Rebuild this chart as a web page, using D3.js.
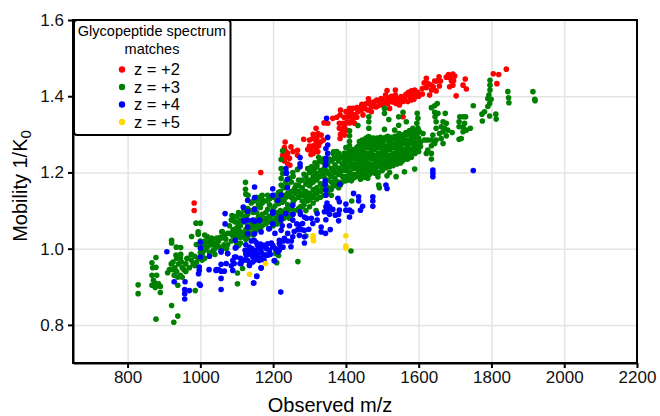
<!DOCTYPE html>
<meta charset="utf-8">
<style>
body { margin: 0; background: #fff; }
svg { display: block; font-family: "Liberation Sans", Arial, sans-serif; }
.grid line { stroke: #e4e4e4; stroke-width: 1.5px; }
.grid path { display: none; }
.axis path, .axis line { stroke: #000; stroke-width: 2px; }
.axis text { font-size: 17px; fill: #111; }
.frame { fill: none; stroke: #000; stroke-width: 2px; }
</style>
<svg width="660" height="416"></svg>
<script src="https://d3js.org/d3.v7.min.js"></script>
<script>

var xTicks = [800, 1000, 1200, 1400, 1600, 1800, 2000, 2200];
var yTicks = [0.8, 1.0, 1.2, 1.4, 1.6];
var legendLabels = ["z = +2", "z = +3", "z = +4", "z = +5"];
var colors = ["#ff0000", "#008000", "#0000ff", "#ffd700"];

// [m/z, 1/K0]
var z2 = [[1841,1.471],[1805,1.459],[1820,1.457],[1815,1.433],[1621,1.447],[1656,1.451],[1682,1.457],[1694,1.458],[1699,1.453],[1685,1.449],[1696,1.441],[1728,1.445],[1722,1.429],[1731,1.419],[1703,1.401],[1685,1.425],[1694,1.429],
  [1644,1.44],[1657,1.427],[1625,1.434],[1621,1.423],[1635,1.416],[1648,1.414],[1630,1.403],[1610,1.406],[1589,1.416],[1580,1.414],[1593,1.407],[1584,1.403],[1575,1.4],[1598,1.41],[1587,1.392],[1580,1.39],[1570,1.386],
  [1536,1.416],[1536,1.403],[1529,1.394],[1543,1.394],[1552,1.399],[1525,1.386],[1538,1.381],[1547,1.377],[1557,1.386],[1561,1.394],[1513,1.415],[1509,1.403],[1497,1.394],[1492,1.386],[1479,1.386],[1483,1.372],[1502,1.377],[1515,1.381],[1520,1.368],[1557,1.346],
  [1462,1.393],[1444,1.379],[1460,1.381],[1470,1.372],[1451,1.368],[1460,1.364],[1442,1.364],[1433,1.359],[1447,1.351],[1470,1.359],[1410,1.368],[1419,1.368],[1405,1.359],[1415,1.355],[1424,1.351],[1410,1.346],[1403,1.346],[1385,1.364],[1364,1.342],[1350,1.329],[1384,1.351],
  [1382,1.329],[1392,1.329],[1396,1.32],[1382,1.316],[1392,1.307],[1401,1.311],[1384,1.289],[1396,1.298],[1405,1.333],[1415,1.333],[1424,1.329],[1318,1.316],[1332,1.298],[1323,1.302],[1284,1.287],[1309,1.289],[1300,1.285],[1318,1.281],[1338,1.285],[1300,1.269],[1314,1.269],[1304,1.259],[1318,1.26],[1304,1.247],[1323,1.254],[1320,1.218],
  [1233,1.28],[1231,1.265],[1249,1.267],[1267,1.258],[1267,1.245],[1226,1.245],[1237,1.241],[1245,1.237],[1231,1.23],[1240,1.223],[1246,1.219],[1166,1.2],[983,1.12],[983,1.1],
  [1440,1.37],[1430,1.37],[1455,1.38],[1465,1.385],[1475,1.38],[1485,1.39],[1490,1.375],[1500,1.39],[1505,1.385],[1510,1.39],[1518,1.395],[1525,1.4],[1530,1.385],[1540,1.39],[1548,1.385],[1555,1.395],[1565,1.405],[1572,1.41],[1580,1.4],[1590,1.4],[1600,1.4],[1610,1.42],[1615,1.435],[1632,1.43],[1640,1.425],[1650,1.44],[1660,1.44],[1690,1.44],[1676,1.45],[1400,1.33],[1410,1.33],[1420,1.34],[1430,1.345],[1395,1.345],[1400,1.36],[1390,1.31],[1385,1.3],[1375,1.345],[1310,1.3],[1320,1.29],[1310,1.27],[1325,1.27],[1295,1.26],[1310,1.25],[1330,1.28],[1240,1.25],[1255,1.255],[1235,1.255],[1340,1.33]];

var z3Scatter = [[1914,1.412],[1919,1.392],[1920,1.388],[1845,1.412],[1847,1.396],[1848,1.383],[1796,1.442],[1796,1.429],[1796,1.416],[1793,1.403],[1790,1.394],[1795,1.381],[1799,1.392],[1790,1.373],[1781,1.359],[1774,1.353],[1775,1.335],[1795,1.348],[1812,1.353],[1813,1.34],[1750,1.375],
  [1722,1.346],[1713,1.346],[1729,1.346],[1711,1.333],[1726,1.329],[1722,1.32],[1711,1.32],[1731,1.311],[1742,1.316],[1722,1.307],[1717,1.289],[1711,1.287],
  [1651,1.381],[1644,1.375],[1635,1.37],[1644,1.358],[1653,1.355],[1645,1.346],[1648,1.333],[1673,1.355],[1667,1.333],[1676,1.329],[1662,1.32],[1671,1.316],[1680,1.311],[1692,1.305],[1667,1.307],[1657,1.302],[1676,1.296],[1662,1.289],[1667,1.276],[1648,1.316],[1639,1.298],[1635,1.285],[1625,1.285],[1616,1.285],[1644,1.276],[1635,1.27],[1625,1.259],[1621,1.25],[1635,1.25],[1635,1.235],[1648,1.285],
  [1596,1.355],[1598,1.342],[1595,1.329],[1598,1.316],[1584,1.316],[1602,1.307],[1589,1.298],[1612,1.302],[1566,1.333],[1545,1.324],[1534,1.311],[1546,1.302],[1557,1.298],[1506,1.368],[1506,1.355],[1518,1.339],[1545,1.346],[1557,1.358],[1506,1.313],[1463,1.346],[1463,1.333],[1463,1.316],[1433,1.323],[1410,1.309],[1410,1.296],[1410,1.281],[1462,1.294],[1437,1.281],[1366,1.254],[1370,1.239],[1396,1.241],[1327,1.228],[1314,1.211],[1275,1.178],
  [1589,1.209],[1561,1.202],[1538,1.189],[1520,1.2],[1513,1.191],[1490,1.167],[1488,1.189],[1460,1.185],[1492,1.16],
  [1124,1.174],[1124,1.156],[1125,1.143],[1131,1.14],[1169,1.139],[1171,1.127],[1188,1.133],[1222,1.167],[1226,1.257],[1222,1.234],[1222,1.21],[1226,1.197],[1222,1.184],[1270,1.18],[1263,1.167],[1254,1.2],[1267,1.208],[1307,1.204],[1313,1.21],[1318,1.197],[1366,1.235],[1394,1.241],[1416,1.125],[1414,0.994],[1268,0.966],[1210,0.963],[1102,0.908],[1102,0.936],[1116,0.948],[1206,0.987],[1215,0.982],[1290,1.033],[1318,1.1],
  [829,0.905],[829,0.882],[878,0.815],[921,0.851],[938,0.823],[927,0.807],[878,0.977],[867,0.963],[869,0.95],[878,0.951],[867,0.93],[871,0.917],[867,0.904],[876,0.898],[885,0.908],[890,0.901],[890,0.885],[910,0.937],[921,1.022],[921,1.015],[934,1.004],[946,1.003],[933,0.983],[946,0.985],[938,0.904],[986,0.89],[963,0.974],[976,1.032],[988,1.067],[1000,1.067],[994,1.044],[994,1.038],[989,1.011],[1012,1.036],[1019,1.032],[1031,1.028],[1045,1.028],[1059,1.044],[1087,1.087],[1089,1.079],
  [925,0.965],[930,0.95],[935,0.94],[940,0.96],[945,0.93],[950,0.95],[955,0.945],[928,0.93],[938,0.925],[948,0.965],[960,0.96],[965,0.975],[970,0.95],[975,0.97],[980,0.96],[985,0.98],[990,0.965],[995,0.975],[1000,0.99],[1005,0.985],[1010,0.995],[1015,1.0],[1020,1.005],[1030,1.01],[1035,0.995],[1040,1.0],[1045,1.015],[1050,1.02],[1055,1.03],[1060,1.045],[1065,1.01],[1070,1.025],[1075,1.04],[1080,1.06],[1085,1.075],[1090,1.05],[1095,1.03],[1000,1.02],[1010,1.01],[1025,0.99],[1040,0.985],[1060,1.0],[1075,1.01],[1085,1.02],[1090,1.085],[1095,1.07],
  [1012,1.02],[1022,1.018],[1033,1.02],[1042,1.012],[1052,1.005],[1058,1.028],[1066,1.035],[1072,1.0],[1082,1.04],[1088,1.035],[1096,1.045],[1104,1.05],
  [1005,0.97],[1012,0.975],[985,0.955],[975,0.985],[945,0.975],[935,0.975],[925,0.945],[920,0.96],[950,0.925],[960,0.94],[915,0.945],[880,0.93],[875,0.91]];

// dense band, one row per m/z column: [m/z, 1/K0, 1/K0, ...]
var z3Band = [[1100,1.085,1.07,1.055,1.04,1.03,1.015],[1105,1.095,1.065,1.035,1.008],[1110,1.09,1.075,1.06,1.045,1.03,1.015],[1120,1.1,1.085,1.07,1.04,1.03],[1125,1.105,1.08,1.05,1.025],[1130,1.105,1.09,1.06,1.045,1.03],[1140,1.12,1.1,1.07,1.055,1.04],[1145,1.125,1.095,1.062,1.036],
  [1150,1.125,1.105,1.075,1.06,1.045],[1155,1.135,1.095,1.065,1.05],[1160,1.13,1.115,1.085,1.07,1.055],[1165,1.135,1.108,1.078,1.05],[1170,1.14,1.12,1.09,1.075,1.06],[1180,1.125,1.095,1.08,1.065],[1185,1.14,1.103,1.072],[1190,1.13,1.115,1.085,1.07],
  [1200,1.135,1.105,1.09,1.075,1.06],[1205,1.14,1.112,1.068],[1210,1.14,1.125,1.095,1.08,1.065],[1215,1.148,1.118,1.088],[1220,1.15,1.13,1.1,1.085,1.07],[1225,1.165,1.122,1.09],[1230,1.16,1.14,1.125,1.095,1.08],[1235,1.175,1.135,1.103],[1240,1.165,1.145,1.115,1.1,1.085],[1245,1.185,1.138,1.108,1.08],
  [1250,1.175,1.15,1.135,1.105,1.09],[1255,1.19,1.152,1.122,1.09],[1260,1.16,1.145,1.13,1.1],[1270,1.165,1.15,1.135,1.105],[1275,1.178,1.142,1.11],[1280,1.18,1.16,1.14,1.125,1.11],[1285,1.195,1.15,1.115],[1290,1.19,1.17,1.15,1.135,1.1],[1295,1.21,1.178,1.14,1.125],
  [1300,1.2,1.18,1.165,1.145,1.13,1.11],[1305,1.215,1.172,1.138],[1310,1.21,1.19,1.175,1.155,1.135,1.12],[1315,1.225,1.182,1.145],[1320,1.215,1.195,1.18,1.16,1.145,1.13],[1325,1.24,1.188,1.152],[1330,1.23,1.205,1.19,1.17,1.15,1.135],[1335,1.235,1.195,1.158],[1340,1.225,1.21,1.19,1.17,1.155,1.14],[1345,1.205,1.165],
  [1350,1.22,1.2,1.18,1.16,1.145],[1355,1.235,1.195,1.158],[1360,1.23,1.21,1.19,1.175,1.155,1.14],[1365,1.25,1.205,1.168],[1370,1.24,1.22,1.2,1.185,1.165],[1375,1.255,1.212,1.175],[1380,1.25,1.23,1.21,1.195,1.175,1.16],[1385,1.24,1.202,1.168],[1390,1.24,1.22,1.205,1.19,1.175],[1395,1.25,1.228,1.212,1.18],
  [1400,1.265,1.25,1.235,1.22,1.205,1.19,1.178],[1405,1.265,1.243,1.212,1.18],[1410,1.27,1.255,1.24,1.23,1.215,1.2,1.185],[1415,1.25,1.222,1.192,1.178],[1420,1.26,1.245,1.235,1.22,1.21,1.195,1.185],[1425,1.26,1.24,1.215,1.188],[1430,1.265,1.25,1.235,1.225,1.21,1.195],[1435,1.27,1.255,1.23,1.202,1.19],
  [1440,1.272,1.26,1.25,1.24,1.225,1.215,1.2,1.19,1.182],[1445,1.285,1.258,1.235,1.208],[1450,1.28,1.27,1.255,1.245,1.23,1.22,1.205,1.195,1.187],[1455,1.29,1.27,1.245,1.215,1.19],[1460,1.288,1.275,1.265,1.25,1.24,1.225,1.21,1.2],[1465,1.292,1.27,1.243,1.218,1.195],[1470,1.285,1.275,1.26,1.25,1.235,1.22,1.21,1.2],[1475,1.29,1.268,1.24,1.212],[1480,1.28,1.27,1.26,1.245,1.235,1.225,1.21,1.198],[1485,1.29,1.265,1.24,1.215],[1490,1.285,1.275,1.265,1.25,1.24,1.23,1.215,1.2],[1495,1.292,1.27,1.245,1.222],
  [1500,1.288,1.28,1.27,1.255,1.245,1.23,1.22,1.205],[1505,1.29,1.262,1.24,1.215],[1510,1.292,1.285,1.27,1.26,1.25,1.235,1.225,1.212],[1515,1.295,1.265,1.242,1.22],[1520,1.285,1.28,1.27,1.26,1.245,1.235,1.225,1.215],[1525,1.292,1.268,1.245],[1530,1.29,1.275,1.265,1.25,1.24,1.23,1.218],[1535,1.295,1.27,1.248,1.225],[1540,1.29,1.28,1.265,1.255,1.245,1.235,1.222],[1545,1.295,1.275,1.25,1.228],
  [1550,1.29,1.28,1.27,1.26,1.25,1.24,1.225],[1555,1.298,1.278,1.255,1.23],[1560,1.295,1.285,1.275,1.26,1.25,1.238],[1565,1.305,1.28,1.258,1.235],[1570,1.3,1.285,1.275,1.265,1.255,1.245,1.235],[1575,1.31,1.282,1.258],[1580,1.305,1.295,1.285,1.275,1.26,1.25,1.24],[1585,1.31,1.288,1.262],[1590,1.305,1.295,1.28,1.27,1.26,1.25],[1595,1.3,1.272],[1600,1.29,1.275,1.265,1.255],[1605,1.28,1.268]];

var z4 = [[908,0.992],[1000,1.017],[1000,1.002],[1000,0.978],[1025,0.98],[997,0.952],[997,0.943],[995,0.934],[1024,0.945],[1043,0.943],[1057,0.991],[1075,0.987],[1057,0.959],[1057,0.941],[1066,0.941],[1057,0.922],[1057,0.893],[997,0.907],[1000,0.904],[928,0.913],[958,0.913],[957,0.893],[957,0.882],[957,0.868],[970,0.89],[1071,0.961],[1089,0.969],[1089,0.943],[1094,0.978],[1109,0.961],[1096,1.022],[1096,1.002],[1068,1.092],[1068,1.065],
  [1118,1.109],[1130,1.127],[1149,1.162],[1149,1.134],[1149,1.103],[1130,1.098],[1121,1.072],[1149,1.072],[1163,1.074],[1130,1.057],[1130,1.039],[1149,1.039],[1188,1.052],[1199,1.157],[1199,1.14],[1213,1.127],[1222,1.141],[1199,1.093],[1199,1.065],[1222,1.083],[1236,1.198],[1239,1.182],[1239,1.16],[1221,0.886],[1155,0.927],[1147,0.91],[1167,0.949],
  [1123,0.996],[1126,0.983],[1135,1.004],[1139,0.991],[1144,0.978],[1130,0.969],[1153,1.017],[1162,1.004],[1167,0.991],[1158,0.978],[1176,1.009],[1185,1.013],[1190,0.996],[1199,1.009],[1217,1.022],[1227,1.004],[1213,0.991],[1181,0.983],[1144,0.965],[1135,0.956],[1162,0.969],[1204,0.969],
  [1235,1.21],[1237,1.199],[1254,1.114],[1235,1.092],[1254,1.09],[1274,1.097],[1222,1.075],[1254,1.075],[1286,1.083],[1281,1.066],[1272,1.062],[1298,1.051],[1309,1.066],[1321,1.092],[1321,1.075],[1345,1.076],[1332,1.057],[1344,1.04],[1357,1.05],[1332,1.044],[1286,1.031],[1286,1.015],[1286,1.048],[1272,1.035],[1254,1.031],[1240,1.04],[1231,1.027],[1222,1.048],[1217,1.013],[1249,1.005],[1217,0.996],[1199,1.005],[1171,1.009],
  [1274,1.239],[1274,1.223],[1274,1.215],[1350,1.292],[1350,1.272],[1345,1.263],[1350,1.25],[1345,1.237],[1345,1.228],[1344,1.219],[1347,1.342],[1343,1.178],[1343,1.169],[1383,1.169],[1345,1.154],[1345,1.14],[1348,1.12],[1350,1.105],[1341,1.097],[1350,1.097],[1364,1.103],[1378,1.132],[1382,1.123],[1371,1.088],[1380,1.09],[1380,1.073],[1382,1.101],[1400,1.117],[1400,1.101],[1410,1.101],[1416,1.097],[1410,1.083],[1421,1.145],[1435,1.136],[1435,1.125],[1446,1.111],[1440,1.101],[1474,1.136],[1474,1.125],[1474,1.111],[1510,1.167],[1513,1.158],[1639,1.206],[1639,1.198],[1639,1.189],[1750,1.205],
  [1148,1.022],[1157,1.009],[1135,0.996],[1153,0.996],[1167,1.0],[1144,0.983],[1125,0.987],[1167,0.974],[1185,0.983],[1135,0.957],[1167,0.95],[1155,0.928],[1146,0.91],[1203,0.968],[1112,0.961],[1098,0.978],[1093,0.961],[1075,0.987],[1057,0.994],[1098,1.003],[1130,1.075],[1119,1.073],[1144,1.075],[1162,1.075],[1199,1.097],[1190,1.053],[1167,1.044],
  [1125,1.01],[1132,0.985],[1142,1.0],[1150,0.99],[1156,0.985],[1165,1.012],[1172,0.985],[1182,1.0],[1192,0.985],[1195,1.015],[1206,1.0],[1220,1.005],[1228,1.02],[1240,1.02],[1250,1.02],[1258,1.045],[1268,1.05],[1278,1.05],[1292,1.08],[1305,1.08],[1245,1.06],[1225,1.06],[1205,1.04],[1140,1.02],[1120,0.97],[1150,0.97],[1175,0.97],[1110,0.975],[1085,0.955],[1044,0.945],[1050,0.945],[1355,1.11],[1355,1.09],[1345,1.11],[1275,1.09],[1265,1.065]];

var z5 = [[1310,1.034],[1310,1.028],[1311,1.021],[1400,1.034],[1400,1.007],[1400,1.002],[1179,0.961],[1135,0.933]];

var z3 = z3Scatter.concat(d3.merge(z3Band.map(function(r) {
  return r.slice(1).map(function(v) { return [r[0], v]; });
})));
var series = [z2, z3, z4, z5];

var svg = d3.select("svg"),
    margin = {top: 20, right: 23, bottom: 53, left: 73},
    width = 660 - margin.left - margin.right,
    height = 416 - margin.top - margin.bottom,
    g = svg.append("g").attr("transform", "translate(" + margin.left + "," + margin.top + ")");

var x = d3.scaleLinear().domain([650, 2200]).range([0, width]),
    y = d3.scaleLinear().domain([0.7, 1.6]).range([height, 0]);

// grid
g.append("g").attr("class", "grid")
    .attr("transform", "translate(0," + height + ")")
    .call(d3.axisBottom(x).tickValues(xTicks).tickSize(-height).tickFormat(""));
g.append("g").attr("class", "grid")
    .call(d3.axisLeft(y).tickValues(yTicks).tickSize(-width).tickFormat(""));

// points, red first and yellow last
series.forEach(function(pts, i) {
  g.append("g").selectAll("circle")
    .data(pts)
    .enter().append("circle")
      .attr("cx", function(d) { return x(d[0]); })
      .attr("cy", function(d) { return y(d[1]); })
      .attr("r", 2.8)
      .attr("fill", colors[i]);
});

// axes
g.append("g").attr("class", "axis")
    .attr("transform", "translate(0," + height + ")")
    .call(d3.axisBottom(x).tickValues(xTicks).tickSizeInner(5).tickSizeOuter(0).tickPadding(3).tickFormat(d3.format("d")));
g.append("g").attr("class", "axis")
    .call(d3.axisLeft(y).tickValues(yTicks).tickSizeInner(5).tickSizeOuter(0).tickPadding(4).tickFormat(d3.format(".1f")));
g.append("rect").attr("class", "frame").attr("width", width).attr("height", height);

// axis titles
svg.append("text")
    .attr("x", 330).attr("y", 411.5)
    .attr("text-anchor", "middle")
    .style("font-size", "20px")
    .text("Observed m/z");

var yTitle = svg.append("text")
    .attr("transform", "translate(27,186) rotate(-90)")
    .attr("text-anchor", "middle")
    .style("font-size", "20px")
    .text("Mobility 1/K");
yTitle.append("tspan").attr("dy", 4).style("font-size", "15px").text("0");

// legend
var legend = svg.append("g");
legend.append("rect")
    .attr("x", 74).attr("y", 20)
    .attr("width", 156.5).attr("height", 115)
    .attr("rx", 3)
    .attr("fill", "#fff").attr("stroke", "#000").attr("stroke-width", 2);

legend.selectAll(".title")
    .data(["Glycopeptide spectrum", "matches"])
    .enter().append("text")
      .attr("class", "title")
      .attr("x", 152)
      .attr("y", function(d, i) { return 36 + i * 18; })
      .attr("text-anchor", "middle")
      .style("font-size", "14.5px")
      .text(function(d) { return d; });

legendLabels.forEach(function(label, i) {
  var cy = 69.5 + i * 17.5;
  legend.append("circle").attr("cx", 122).attr("cy", cy).attr("r", 3.2).attr("fill", colors[i]);
  legend.append("text").attr("x", 134).attr("y", cy + 5.5).style("font-size", "16.5px").text(label);
});

</script>
